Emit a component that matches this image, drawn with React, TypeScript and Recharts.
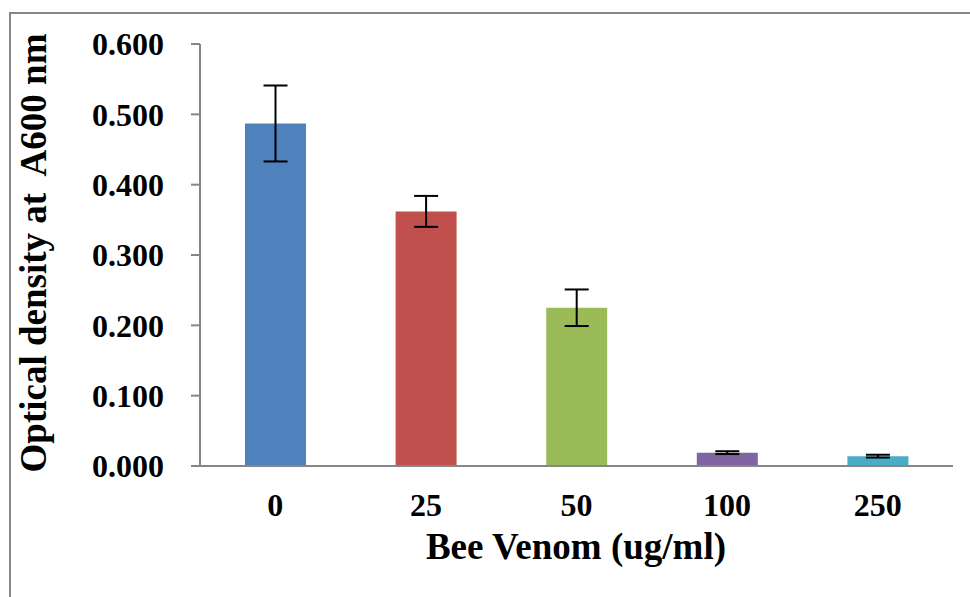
import React from "react";
import { BarChart, Bar, XAxis, YAxis, ErrorBar, Cell } from "recharts";

const categories = ["0", "25", "50", "100", "250"];
const values = [0.487, 0.362, 0.225, 0.019, 0.014];
const errors = [0.054, 0.022, 0.026, 0.002, 0.002];
const colors = ["#4F81BD", "#C0504D", "#9BBB59", "#8064A2", "#4BACC6"];
const yTicks = [0, 0.1, 0.2, 0.3, 0.4, 0.5, 0.6];

const data = categories.map((c, i) => ({ dose: c, od: values[i], err: errors[i] }));

const FONT = "'Liberation Serif', 'Times New Roman', serif";
const AXIS = "#868686";

const YTitle = () => {
  const cy = 253;
  return (
    <text
      x={46}
      y={cy}
      transform={`rotate(-90, 46, ${cy})`}
      textAnchor="middle"
      fontFamily={FONT}
      fontWeight="bold"
      fontSize={37}
      fill="#000"
      style={{ whiteSpace: "pre" }}
    >
      {"Optical density at  A600 nm"}
    </text>
  );
};

const XTitle = () => (
  <text
    x={576}
    y={559}
    textAnchor="middle"
    fontFamily={FONT}
    fontWeight="bold"
    fontSize={37}
    fill="#000"
  >
    Bee Venom (ug/ml)
  </text>
);

export default function App() {
  return (
    <div style={{ position: "absolute", left: 0, top: 0, width: 970, height: 597, overflow: "hidden", background: "#fff" }}>
      <div
        style={{
          position: "absolute",
          left: 9,
          top: 12,
          width: 1200,
          height: 1200,
          borderLeft: `2px solid ${AXIS}`,
          borderTop: `2px solid ${AXIS}`,
          boxSizing: "border-box",
        }}
      />
      <div style={{ position: "absolute", left: 0, top: 0 }}>
        <BarChart
          width={970}
          height={597}
          data={data}
          margin={{ top: 44, right: 17, bottom: 0, left: 0 }}
          barSize={61}
        >
          <XAxis
            dataKey="dose"
            axisLine={{ stroke: AXIS, strokeWidth: 2 }}
            tickLine={false}
            tickSize={0}
            tickMargin={27}
            tick={{ fontFamily: FONT, fontWeight: "bold", fontSize: 32, fill: "#000" }}
            interval={0}
            height={131}
            label={<XTitle />}
          />
          <YAxis
            domain={[0, 0.6]}
            ticks={yTicks}
            width={200}
            axisLine={{ stroke: AXIS, strokeWidth: 2 }}
            tickLine={{ stroke: AXIS, strokeWidth: 2 }}
            tickSize={9}
            tickMargin={27}
            tickFormatter={(v: number) => v.toFixed(3)}
            tick={{ fontFamily: FONT, fontWeight: "bold", fontSize: 32, fill: "#000" }}
            label={<YTitle />}
          />
          <Bar dataKey="od" isAnimationActive={false}>
            {data.map((d, i) => (
              <Cell key={d.dose} fill={colors[i]} />
            ))}
            <ErrorBar dataKey="err" width={12} stroke="#000" strokeWidth={2} direction="y" />
          </Bar>
        </BarChart>
      </div>
    </div>
  );
}
